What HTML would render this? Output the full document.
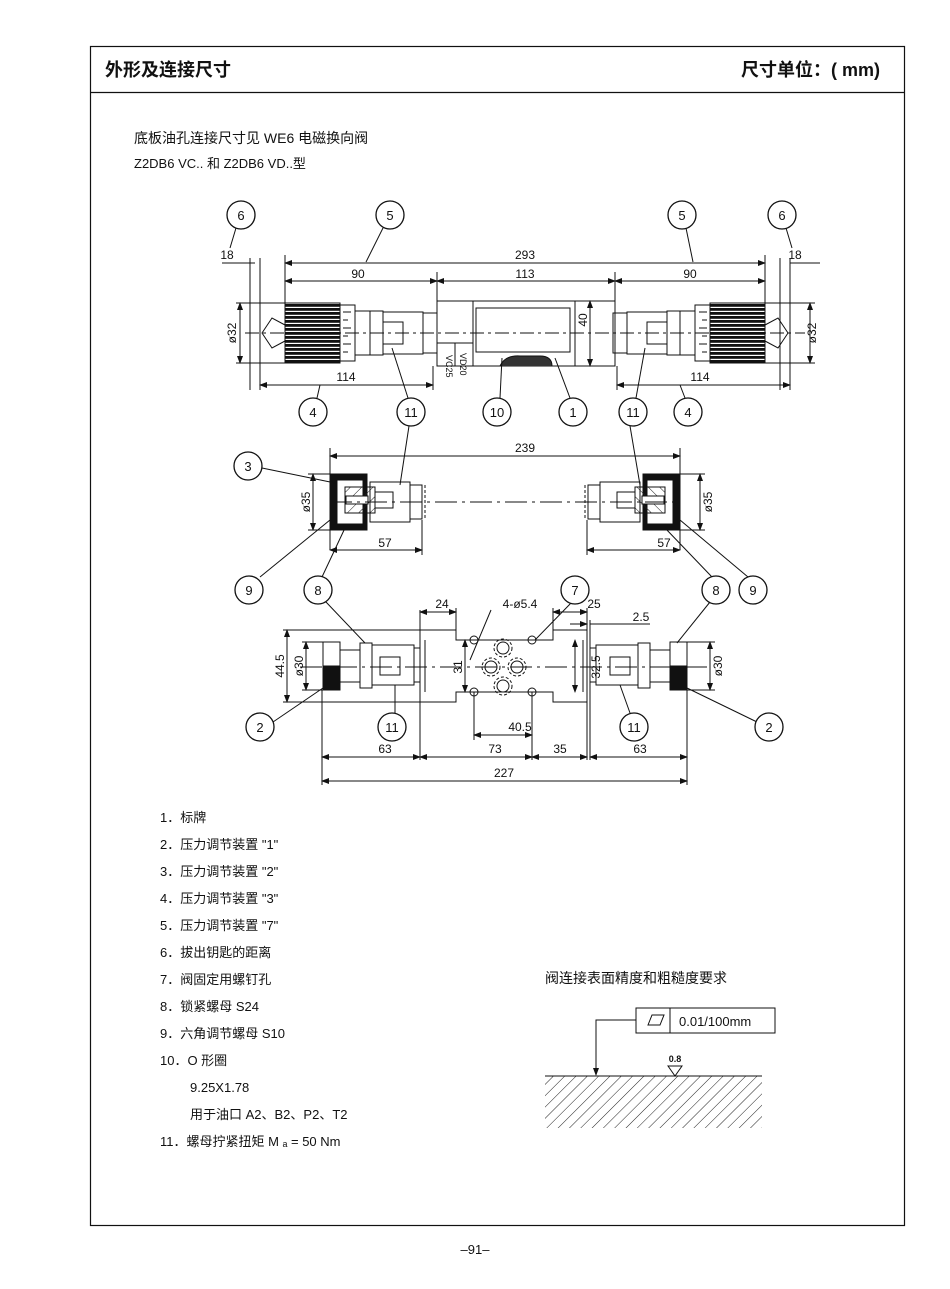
<!DOCTYPE html>
<html><head><meta charset="utf-8"><style>
body{margin:0;background:#fff;}
svg{display:block;}
text{font-family:"Liberation Sans","Noto Sans CJK SC",sans-serif;fill:#111;}
.d{font-family:"Liberation Sans Narrow","Liberation Sans",sans-serif;font-size:12px;}
.c{font-family:"Liberation Serif",serif;font-size:13px;text-anchor:middle;}
</style></head><body>
<svg width="950" height="1289" viewBox="0 0 950 1289" xmlns="http://www.w3.org/2000/svg">
<defs>
<pattern id="h" width="8" height="8" patternUnits="userSpaceOnUse" patternTransform="rotate(45)"><line x1="0" y1="0" x2="0" y2="8" stroke="#222" stroke-width="1"/></pattern>
<pattern id="k" width="4" height="4" patternUnits="userSpaceOnUse"><rect width="4" height="2.8" fill="#111"/></pattern>
<marker id="a" markerWidth="8" markerHeight="6" refX="7" refY="3" orient="auto-start-reverse"><path d="M0,0 L8,3 L0,6 z" fill="#111"/></marker>
</defs>
<rect x="90.5" y="46.5" width="814" height="1179" fill="none" stroke="#111" stroke-width="1.2"/>
<line x1="90" y1="92.5" x2="904" y2="92.5" stroke="#111" stroke-width="1.2"/>
<text x="105" y="76" font-size="18" font-weight="bold">外形及连接尺寸</text>
<text x="880" y="76" font-size="18" font-weight="bold" text-anchor="end">尺寸单位：( mm)</text>
<text x="134" y="143" font-size="14">底板油孔连接尺寸见 WE6 电磁换向阀</text>
<text x="134" y="168" font-size="13">Z2DB6 VC.. 和 Z2DB6 VD..型</text>

<g stroke="#111" fill="none" stroke-width="1">
<line x1="222" y1="263" x2="255" y2="263"/>
<line x1="285" y1="263" x2="765" y2="263" marker-start="url(#a)" marker-end="url(#a)"/>
<line x1="790" y1="263" x2="820" y2="263"/>
<line x1="285" y1="281" x2="437" y2="281" marker-start="url(#a)" marker-end="url(#a)"/>
<line x1="437" y1="281" x2="615" y2="281" marker-start="url(#a)" marker-end="url(#a)"/>
<line x1="615" y1="281" x2="765" y2="281" marker-start="url(#a)" marker-end="url(#a)"/>
<line x1="285" y1="255" x2="285" y2="303"/><line x1="765" y1="255" x2="765" y2="303"/>
<line x1="437" y1="272" x2="437" y2="302"/><line x1="615" y1="272" x2="615" y2="302"/>
<line x1="250" y1="258" x2="250" y2="390"/><line x1="260" y1="258" x2="260" y2="390"/>
<line x1="790" y1="258" x2="790" y2="390"/><line x1="780" y1="258" x2="780" y2="390"/>
<rect x="285" y="303" width="55" height="60" fill="url(#k)"/>
<rect x="340" y="305" width="15" height="56"/>
<path d="M343 312h8M343 320h5M343 328h8M343 336h5M343 344h8M343 352h5"/>
<rect x="355" y="311" width="28" height="44"/>
<line x1="370" y1="311" x2="370" y2="355"/>
<rect x="383" y="312" width="40" height="42"/>
<rect x="383" y="322" width="20" height="22"/>
<rect x="423" y="313" width="14" height="40"/>
<path d="M285 325 L272 318 L262 333 L272 348 L285 341"/>
<rect x="437" y="301" width="178" height="65"/>
<line x1="473" y1="301" x2="473" y2="366"/>
<line x1="575" y1="301" x2="575" y2="366"/>
<rect x="476" y="308" width="94" height="44"/>
<line x1="437" y1="343" x2="473" y2="343"/>
<line x1="455" y1="343" x2="455" y2="366"/>
<path d="M500 366 Q505 355 520 356 L540 356 Q552 356 552 366" fill="#333"/>
<line x1="590" y1="301" x2="590" y2="366" marker-start="url(#a)" marker-end="url(#a)"/>
<g transform="translate(1050,0) scale(-1,1)">
<rect x="285" y="303" width="55" height="60" fill="url(#k)"/>
<rect x="340" y="305" width="15" height="56"/>
<path d="M343 312h8M343 320h5M343 328h8M343 336h5M343 344h8M343 352h5"/>
<rect x="355" y="311" width="28" height="44"/>
<line x1="370" y1="311" x2="370" y2="355"/>
<rect x="383" y="312" width="40" height="42"/>
<rect x="383" y="322" width="20" height="22"/>
<rect x="423" y="313" width="14" height="40"/>
<path d="M285 325 L272 318 L262 333 L272 348 L285 341"/>
</g>
<line x1="245" y1="333" x2="805" y2="333" stroke-dasharray="14 4 3 4"/>
<line x1="240" y1="303" x2="240" y2="363" marker-start="url(#a)" marker-end="url(#a)"/>
<line x1="236" y1="303" x2="285" y2="303"/><line x1="236" y1="363" x2="285" y2="363"/>
<line x1="810" y1="303" x2="810" y2="363" marker-start="url(#a)" marker-end="url(#a)"/>
<line x1="765" y1="303" x2="815" y2="303"/><line x1="765" y1="363" x2="815" y2="363"/>
<line x1="260" y1="385" x2="433" y2="385" marker-start="url(#a)" marker-end="url(#a)"/>
<line x1="433" y1="366" x2="433" y2="390"/>
<line x1="617" y1="385" x2="790" y2="385" marker-start="url(#a)" marker-end="url(#a)"/>
<line x1="617" y1="366" x2="617" y2="390"/>
<line x1="236" y1="228" x2="230" y2="248"/>
<line x1="383" y1="228" x2="366" y2="262"/>
<line x1="686" y1="228" x2="693" y2="262"/>
<line x1="786" y1="228" x2="792" y2="248"/>
<line x1="317" y1="398" x2="320" y2="385"/>
<line x1="408" y1="398" x2="392" y2="348"/>
<line x1="500" y1="398" x2="502" y2="358"/>
<line x1="570" y1="398" x2="555" y2="358"/>
<line x1="636" y1="398" x2="645" y2="348"/>
<line x1="685" y1="398" x2="680" y2="385"/>

<line x1="330" y1="456" x2="680" y2="456" marker-start="url(#a)" marker-end="url(#a)"/>
<line x1="330" y1="448" x2="330" y2="550"/><line x1="680" y1="448" x2="680" y2="550"/>
<rect x="331" y="474" width="36" height="56" fill="#111"/>
<path d="M337 480 h26 v44 h-26 z" fill="#fff"/>
<rect x="345" y="487" width="30" height="26" fill="url(#h)" stroke="#111"/>
<rect x="346" y="496" width="22" height="8" fill="#fff"/>
<rect x="370" y="482" width="40" height="40"/>
<rect x="375" y="492" width="18" height="16"/>
<rect x="410" y="485" width="12" height="34"/>
<line x1="425" y1="485" x2="425" y2="519" stroke-dasharray="3 2"/>
<g transform="translate(1010,0) scale(-1,1)">
<rect x="331" y="474" width="36" height="56" fill="#111"/>
<path d="M337 480 h26 v44 h-26 z" fill="#fff"/>
<rect x="345" y="487" width="30" height="26" fill="url(#h)" stroke="#111"/>
<rect x="346" y="496" width="22" height="8" fill="#fff"/>
<rect x="370" y="482" width="40" height="40"/>
<rect x="375" y="492" width="18" height="16"/>
<rect x="410" y="485" width="12" height="34"/>
<line x1="425" y1="485" x2="425" y2="519" stroke-dasharray="3 2"/>
</g>
<line x1="330" y1="502" x2="680" y2="502" stroke-dasharray="22 5 3 5"/>
<line x1="313" y1="474" x2="313" y2="530" marker-start="url(#a)" marker-end="url(#a)"/>
<line x1="308" y1="474" x2="331" y2="474"/><line x1="308" y1="530" x2="331" y2="530"/>
<line x1="700" y1="474" x2="700" y2="530" marker-start="url(#a)" marker-end="url(#a)"/>
<line x1="680" y1="474" x2="705" y2="474"/><line x1="680" y1="530" x2="705" y2="530"/>
<line x1="330" y1="550" x2="422" y2="550" marker-start="url(#a)" marker-end="url(#a)"/>
<line x1="422" y1="520" x2="422" y2="555"/>
<line x1="587" y1="550" x2="680" y2="550" marker-start="url(#a)" marker-end="url(#a)"/>
<line x1="587" y1="520" x2="587" y2="555"/>
<line x1="262" y1="468" x2="335" y2="483"/>
<line x1="409" y1="426" x2="400" y2="485"/>
<line x1="630" y1="426" x2="640" y2="485"/>
<line x1="260" y1="577" x2="330" y2="520"/>
<line x1="322" y1="577" x2="345" y2="528"/>
<line x1="712" y1="577" x2="665" y2="528"/>
<line x1="748" y1="577" x2="680" y2="520"/>

<path d="M420 630 H456 V640 H553 V630 H587 V702 H553 V692 H456 V702 H420 Z"/>
<line x1="425" y1="640" x2="425" y2="692"/>
<line x1="583" y1="640" x2="583" y2="692"/>
<circle cx="474" cy="640" r="4"/><circle cx="532" cy="640" r="4"/>
<circle cx="474" cy="692" r="4"/><circle cx="532" cy="692" r="4"/>
<circle cx="503" cy="648" r="6"/><circle cx="503" cy="686" r="6"/>
<circle cx="491" cy="667" r="6"/><circle cx="517" cy="667" r="6"/>
<circle cx="503" cy="648" r="9" stroke-dasharray="3 2"/><circle cx="503" cy="686" r="9" stroke-dasharray="3 2"/>
<circle cx="491" cy="667" r="9" stroke-dasharray="3 2"/><circle cx="517" cy="667" r="9" stroke-dasharray="3 2"/>
<rect x="323" y="642" width="17" height="48"/>
<rect x="323" y="666" width="17" height="24" fill="#111"/>
<rect x="340" y="650" width="20" height="32"/>
<rect x="360" y="643" width="12" height="45"/>
<rect x="372" y="645" width="42" height="40"/>
<rect x="380" y="657" width="20" height="18"/>
<rect x="414" y="648" width="6" height="34"/>
<g transform="translate(1010,0) scale(-1,1)">
<rect x="323" y="642" width="17" height="48"/>
<rect x="323" y="666" width="17" height="24" fill="#111"/>
<rect x="340" y="650" width="20" height="32"/>
<rect x="360" y="643" width="12" height="45"/>
<rect x="372" y="645" width="42" height="40"/>
<rect x="380" y="657" width="20" height="18"/>
<rect x="414" y="648" width="6" height="34"/>
</g>
<line x1="300" y1="667" x2="710" y2="667" stroke-dasharray="22 5 3 5"/>
<line x1="287" y1="630" x2="287" y2="702" marker-start="url(#a)" marker-end="url(#a)"/>
<line x1="283" y1="630" x2="420" y2="630"/><line x1="283" y1="702" x2="420" y2="702"/>
<line x1="306" y1="642" x2="306" y2="690" marker-start="url(#a)" marker-end="url(#a)"/>
<line x1="302" y1="642" x2="323" y2="642"/><line x1="302" y1="690" x2="323" y2="690"/>
<line x1="710" y1="642" x2="710" y2="690" marker-start="url(#a)" marker-end="url(#a)"/>
<line x1="687" y1="642" x2="715" y2="642"/><line x1="687" y1="690" x2="715" y2="690"/>
<line x1="420" y1="610" x2="420" y2="760"/><line x1="456" y1="608" x2="456" y2="630"/>
<line x1="420" y1="612" x2="456" y2="612" marker-start="url(#a)" marker-end="url(#a)"/>
<line x1="553" y1="608" x2="553" y2="630"/><line x1="587" y1="608" x2="587" y2="760"/>
<line x1="553" y1="612" x2="587" y2="612" marker-start="url(#a)" marker-end="url(#a)"/>
<line x1="570" y1="624" x2="587" y2="624" marker-end="url(#a)"/>
<line x1="590" y1="624" x2="650" y2="624"/>
<line x1="590" y1="620" x2="590" y2="760"/>
<line x1="474" y1="692" x2="474" y2="740"/><line x1="532" y1="692" x2="532" y2="760"/>
<line x1="474" y1="735" x2="532" y2="735" marker-start="url(#a)" marker-end="url(#a)"/>
<line x1="322" y1="690" x2="322" y2="785"/><line x1="687" y1="690" x2="687" y2="785"/>
<line x1="322" y1="757" x2="420" y2="757" marker-start="url(#a)" marker-end="url(#a)"/>
<line x1="420" y1="757" x2="532" y2="757" marker-start="url(#a)" marker-end="url(#a)"/>
<line x1="532" y1="757" x2="587" y2="757" marker-start="url(#a)" marker-end="url(#a)"/>
<line x1="590" y1="757" x2="687" y2="757" marker-start="url(#a)" marker-end="url(#a)"/>
<line x1="322" y1="781" x2="687" y2="781" marker-start="url(#a)" marker-end="url(#a)"/>
<line x1="465" y1="640" x2="465" y2="692" marker-start="url(#a)" marker-end="url(#a)"/>
<line x1="575" y1="640" x2="575" y2="692" marker-start="url(#a)" marker-end="url(#a)"/>
<line x1="491" y1="610" x2="470" y2="660"/>
<line x1="572" y1="602" x2="535" y2="640"/>
<line x1="710" y1="602" x2="677" y2="643"/>
<line x1="326" y1="602" x2="365" y2="643"/>
<line x1="273" y1="722" x2="323" y2="688"/>
<line x1="395" y1="713" x2="395" y2="685"/>
<line x1="630" y1="713" x2="620" y2="685"/>
<line x1="757" y1="722" x2="687" y2="688"/>

<rect x="636" y="1008" width="139" height="25"/>
<line x1="670" y1="1008" x2="670" y2="1033"/>
<path d="M648 1025 L652 1015 L664 1015 L660 1025 Z"/>
<path d="M636 1020 H596 V1075" marker-end="url(#a)"/>
<rect x="545" y="1076" width="217" height="52" fill="url(#h)" stroke="none"/>
<line x1="545" y1="1076" x2="762" y2="1076"/>
<path d="M668 1066 L675 1076 L682 1066 Z M668 1066 H682"/>
</g>

<g stroke="#111" stroke-width="1.3" fill="#fff">
<circle cx="241" cy="215" r="14"/><circle cx="390" cy="215" r="14"/><circle cx="682" cy="215" r="14"/><circle cx="782" cy="215" r="14"/>
<circle cx="313" cy="412" r="14"/><circle cx="411" cy="412" r="14"/><circle cx="497" cy="412" r="14"/><circle cx="573" cy="412" r="14"/><circle cx="633" cy="412" r="14"/><circle cx="688" cy="412" r="14"/>
<circle cx="248" cy="466" r="14"/>
<circle cx="249" cy="590" r="14"/><circle cx="318" cy="590" r="14"/><circle cx="575" cy="590" r="14"/><circle cx="716" cy="590" r="14"/><circle cx="753" cy="590" r="14"/>
<circle cx="260" cy="727" r="14"/><circle cx="392" cy="727" r="14"/><circle cx="634" cy="727" r="14"/><circle cx="769" cy="727" r="14"/>
</g>
<g class="c">
<text x="241" y="220">6</text><text x="390" y="220">5</text><text x="682" y="220">5</text><text x="782" y="220">6</text>
<text x="313" y="417">4</text><text x="411" y="417">11</text><text x="497" y="417">10</text><text x="573" y="417">1</text><text x="633" y="417">11</text><text x="688" y="417">4</text>
<text x="248" y="471">3</text>
<text x="249" y="595">9</text><text x="318" y="595">8</text><text x="575" y="595">7</text><text x="716" y="595">8</text><text x="753" y="595">9</text>
<text x="260" y="732">2</text><text x="392" y="732">11</text><text x="634" y="732">11</text><text x="769" y="732">2</text>
</g>
<g class="d" text-anchor="middle">
<text x="227" y="259">18</text><text x="795" y="259">18</text>
<text x="525" y="259">293</text>
<text x="358" y="278">90</text><text x="525" y="278">113</text><text x="690" y="278">90</text>
<text x="346" y="381">114</text><text x="700" y="381">114</text>
<text x="525" y="452">239</text>
<text x="385" y="547">57</text><text x="664" y="547">57</text>
<text x="442" y="608">24</text><text x="520" y="608">4-ø5.4</text><text x="594" y="608">25</text><text x="641" y="621">2.5</text>
<text x="520" y="731">40.5</text>
<text x="385" y="753">63</text><text x="495" y="753">73</text><text x="560" y="753">35</text><text x="640" y="753">63</text>
<text x="504" y="777">227</text>
<text x="675" y="1062" font-size="9" font-weight="bold">0.8</text>
</g>
<g class="d">
<text transform="translate(236,333) rotate(-90)" text-anchor="middle">ø32</text>
<text transform="translate(816,333) rotate(-90)" text-anchor="middle">ø32</text>
<text transform="translate(587,320) rotate(-90)" text-anchor="middle">40</text>
<text transform="translate(446,355) rotate(90)" font-size="9">VC25</text>
<text transform="translate(460,353) rotate(90)" font-size="9">VD20</text>
<text transform="translate(310,502) rotate(-90)" text-anchor="middle">ø35</text>
<text transform="translate(712,502) rotate(-90)" text-anchor="middle">ø35</text>
<text transform="translate(284,666) rotate(-90)" text-anchor="middle">44.5</text>
<text transform="translate(303,666) rotate(-90)" text-anchor="middle">ø30</text>
<text transform="translate(722,666) rotate(-90)" text-anchor="middle">ø30</text>
<text transform="translate(462,667) rotate(-90)" text-anchor="middle">31</text>
<text transform="translate(600,667) rotate(-90)" text-anchor="middle">32.5</text>
<text x="679" y="1026" font-size="13">0.01/100mm</text>
</g>

<g font-size="13">
<text x="160" y="822">1．标牌</text>
<text x="160" y="849">2．压力调节装置 "1"</text>
<text x="160" y="876">3．压力调节装置 "2"</text>
<text x="160" y="903">4．压力调节装置 "3"</text>
<text x="160" y="930">5．压力调节装置 "7"</text>
<text x="160" y="957">6．拔出钥匙的距离</text>
<text x="160" y="984">7．阀固定用螺钉孔</text>
<text x="160" y="1011">8．锁紧螺母 S24</text>
<text x="160" y="1038">9．六角调节螺母 S10</text>
<text x="160" y="1065">10．O 形圈</text>
<text x="190" y="1092">9.25X1.78</text>
<text x="190" y="1119">用于油口 A2、B2、P2、T2</text>
<text x="160" y="1146">11．螺母拧紧扭矩 M ₐ = 50 Nm</text>
</g>
<text x="545" y="983" font-size="14">阀连接表面精度和粗糙度要求</text>
<text x="475" y="1254" font-size="13" text-anchor="middle">–91–</text>
</svg>
</body></html>
